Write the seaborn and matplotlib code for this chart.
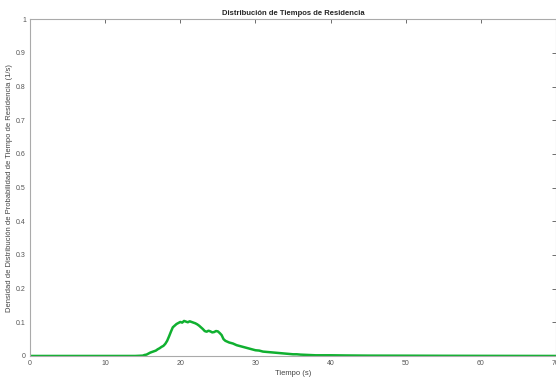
import pandas as pd
import matplotlib
matplotlib.use('Agg')
import matplotlib.pyplot as plt
import seaborn as sns

# tiempo (s) y densidad E(t) (1/s)
tiempo = [0, 5, 10, 13, 14, 14.5, 15, 15.25, 15.5, 15.75, 16, 16.25, 16.5, 16.75, 17, 17.25,
          17.5, 17.75, 18, 18.25, 18.5, 18.75, 19, 19.25, 19.5, 19.75, 20, 20.25, 20.5, 20.75,
          21, 21.25, 21.5, 21.75, 22, 22.25, 22.5, 22.75, 23, 23.25, 23.5, 23.75, 24, 24.25,
          24.5, 24.75, 25, 25.25, 25.5, 25.75, 26, 26.5, 27, 27.5, 28, 28.5, 29, 29.5, 30,
          30.5, 31, 31.5, 32, 32.5, 33, 33.5, 34, 34.5, 35, 35.5, 36, 37, 38, 39, 40, 42, 45,
          50, 55, 60, 70]
densidad = [0.0, 0.0, 0.0, 0.0, 0.0, 0.0005, 0.001, 0.003, 0.004, 0.007, 0.010, 0.012, 0.014,
            0.016, 0.020, 0.023, 0.027, 0.030, 0.036, 0.045, 0.058, 0.072, 0.085, 0.090, 0.095,
            0.098, 0.101, 0.099, 0.104, 0.102, 0.100, 0.103, 0.101, 0.099, 0.097, 0.094, 0.090,
            0.085, 0.080, 0.074, 0.072, 0.075, 0.073, 0.070, 0.071, 0.074, 0.073, 0.068, 0.062,
            0.050, 0.045, 0.040, 0.037, 0.032, 0.029, 0.026, 0.023, 0.020, 0.017, 0.016, 0.013,
            0.012, 0.011, 0.010, 0.009, 0.008, 0.007, 0.006, 0.005, 0.005, 0.004, 0.003, 0.002,
            0.002, 0.002, 0.0015, 0.001, 0.0008, 0.0005, 0.0003, 0.0]

df = pd.DataFrame({'Tiempo': tiempo, 'E': densidad})

sns.set_style('white')
plt.rcParams['font.family'] = ['Liberation Sans', 'DejaVu Sans']

fig = plt.figure(figsize=(5.56, 3.84), dpi=100)
ax = fig.add_axes([0.054, 0.073, 0.946, 0.877])

sns.lineplot(data=df, x='Tiempo', y='E', color='#10b030', linewidth=1.8, ax=ax)

ax.set_xlim(0, 70)
ax.set_ylim(0, 1)
ax.set_xticks(range(0, 71, 10))
ax.set_yticks([i / 10 for i in range(11)])
ax.set_yticklabels(['0', '0.1', '0.2', '0.3', '0.4', '0.5', '0.6', '0.7', '0.8', '0.9', '1'])
ax.tick_params(direction='in', length=3, width=0.6, labelsize=5, colors='#555555',
               top=True, right=True, pad=3)
for s in ax.spines.values():
    s.set_color('#aaaaaa')
    s.set_linewidth(0.8)

ax.set_title('Distribución de Tiempos de Residencia', fontsize=5.5, fontweight='bold', pad=3)
ax.set_xlabel('Tiempo (s)', fontsize=5.5, color='#444444', labelpad=2)
ax.set_ylabel('Densidad de Distribución de Probabilidad de Tiempo de Residencia (1/s)',
              fontsize=5.5, color='#444444', labelpad=2)

plt.savefig('out.png', dpi=100)
